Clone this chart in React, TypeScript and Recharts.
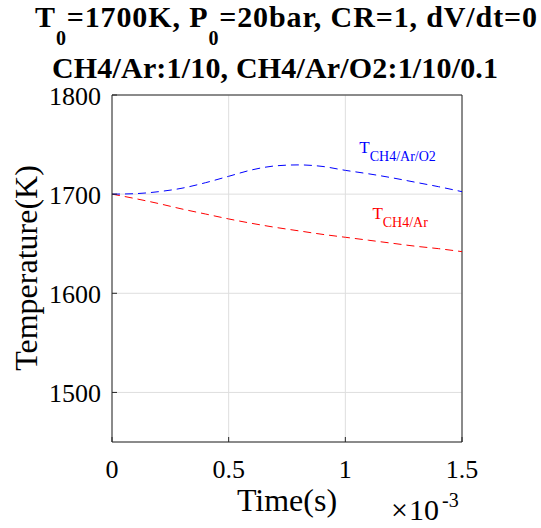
import React from "react";
import {
  LineChart,
  Line,
  XAxis,
  YAxis,
  CartesianGrid,
  ReferenceLine,
  ReferenceDot,
} from "recharts";

// time in units of 1e-3 s
const timeMs = [0, 0.1, 0.2, 0.3, 0.4, 0.5, 0.6, 0.7, 0.8, 0.9, 1.0, 1.1, 1.2, 1.3, 1.4, 1.5];
const tempAr = [1700, 1695.5, 1690.5, 1685, 1680, 1675, 1670.5, 1666.5, 1663, 1659.5, 1656.5, 1653.5, 1650.5, 1647.5, 1645, 1642];
const tempArO2 = [1700, 1700.5, 1702.5, 1706, 1711.5, 1718, 1724.5, 1728.5, 1729.5, 1728, 1724, 1720.5, 1716.5, 1712, 1707.5, 1702.5];

const xTicks = [0, 0.5, 1, 1.5];
const yTicks = [1500, 1600, 1700, 1800];

const serif = { fontFamily: "'Liberation Serif', 'Times New Roman', 'DejaVu Serif', serif" };
const AXIS = "#262626";

const chartData = timeMs.map((t, i) => ({ t, ar: tempAr[i], arO2: tempArO2[i] }));

const XTick = (props: any) => {
  const { x, y, payload } = props;
  return (
    <g>
      <line x1={x} x2={x} y1={y} y2={y - 5} stroke={AXIS} />
      <text x={x} y={y + 36} textAnchor="middle" style={serif} fontSize={26} fill="#000">
        {payload.value}
      </text>
    </g>
  );
};

const YTick = (props: any) => {
  const { x, y, payload } = props;
  return (
    <g>
      <line x1={x} x2={x + 5} y1={y} y2={y} stroke={AXIS} />
      <text x={x - 11} y={y + 10} textAnchor="end" style={serif} fontSize={26} fill="#000">
        {payload.value}
      </text>
    </g>
  );
};

const seriesLabel = (main: string, sub: string, color: string) => (props: any) => {
  const vb = props.viewBox || {};
  const x = vb.x + (vb.width || 0) / 2;
  const y = vb.y + (vb.height || 0) / 2;
  return (
    <text x={x} y={y} style={serif} fill={color}>
      <tspan fontSize={17}>{main}</tspan>
      <tspan fontSize={14} dy={8}>{sub}</tspan>
    </text>
  );
};

export default function App() {
  return (
    <div style={{ position: "absolute", left: 0, top: 0, width: 541, height: 528, background: "#fff" }}>
      <LineChart
        width={541}
        height={528}
        data={chartData}
        margin={{ top: 95, right: 79, bottom: 46, left: 12 }}
      >
        <CartesianGrid stroke="#dedede" strokeWidth={1} />
        <XAxis
          dataKey="t"
          type="number"
          domain={[0, 1.5]}
          ticks={xTicks}
          height={40}
          tickSize={0}
          tickMargin={0}
          tick={<XTick />}
          axisLine={{ stroke: AXIS }}
          tickLine={false}
        />
        <YAxis
          type="number"
          domain={[1450, 1800]}
          ticks={yTicks}
          width={100}
          tickSize={0}
          tickMargin={0}
          tick={<YTick />}
          axisLine={{ stroke: AXIS }}
          tickLine={false}
          allowDataOverflow
        />
        <ReferenceLine y={1800} stroke={AXIS} />
        <ReferenceLine x={1.5} stroke={AXIS} />
        <Line
          type="monotone"
          dataKey="ar"
          stroke="#ff0000"
          strokeWidth={1}
          strokeDasharray="8 5"
          dot={false}
          isAnimationActive={false}
        />
        <Line
          type="monotone"
          dataKey="arO2"
          stroke="#0000ff"
          strokeWidth={1}
          strokeDasharray="8 5"
          dot={false}
          isAnimationActive={false}
        />
        <ReferenceDot
          x={1.06}
          y={1741}
          r={0}
          stroke="none"
          label={{ content: seriesLabel("T", "CH4/Ar/O2", "#0000ff") }}
        />
        <ReferenceDot
          x={1.116}
          y={1675}
          r={0}
          stroke="none"
          label={{ content: seriesLabel("T", "CH4/Ar", "#ff0000") }}
        />
      </LineChart>
      <svg
        width={541}
        height={528}
        style={{ position: "absolute", left: 0, top: 0, pointerEvents: "none" }}
      >
        <text
          x={35}
          y={27}
          style={serif}
          fontWeight="bold"
          fontSize={30}
          textLength={502}
          lengthAdjust="spacing"
        >
          <tspan>T</tspan>
          <tspan fontSize={20} dy={18}>0</tspan>
          <tspan dy={-18}>=1700K, P</tspan>
          <tspan fontSize={20} dy={18}>0</tspan>
          <tspan dy={-18}>=20bar, CR=1, dV/dt=0</tspan>
        </text>
        <text
          x={52}
          y={78}
          style={serif}
          fontWeight="bold"
          fontSize={30}
          textLength={446}
          lengthAdjust="spacing"
        >
          CH4/Ar:1/10, CH4/Ar/O2:1/10/0.1
        </text>
        <text
          transform="translate(37,268) rotate(-90)"
          textAnchor="middle"
          style={serif}
          fontSize={32}
        >
          Temperature(K)
        </text>
        <text x={287} y={511} textAnchor="middle" style={serif} fontSize={32}>
          Time(s)
        </text>
        <text y={520} style={serif} fontSize={30}>
          <tspan x={391}>×</tspan>
          <tspan x={409}>10</tspan>
          <tspan x={442} y={507} fontSize={20}>-3</tspan>
        </text>
      </svg>
    </div>
  );
}
